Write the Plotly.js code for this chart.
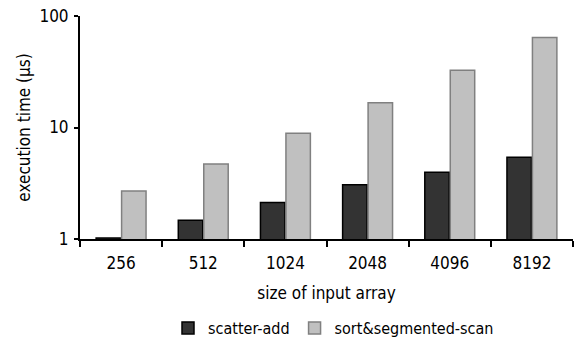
<!DOCTYPE html>
<html>
<head>
<meta charset="utf-8">
<script src="https://cdn.plot.ly/plotly-3.0.1.min.js"></script>
<style>
  html, body { margin: 0; padding: 0; background: #fff; }
  #chart { width: 576px; height: 341px; }
</style>
</head>
<body>
<div id="chart"></div>
<script>
// Input array sizes
const sizes = ["256", "512", "1024", "2048", "4096", "8192"];
// Execution times in microseconds
const scatterAdd = [1.02, 1.47, 2.12, 3.07, 3.96, 5.4];
const sortSegScan = [2.7, 4.7, 8.9, 16.7, 32.6, 64.3];
// Y-axis tick labels
const yTicks = [1, 10, 100];

const family = "DejaVu Sans Condensed, DejaVu Sans, sans-serif";
const font = { family: family, size: 17, color: "#000" };

const traces = [
  {
    type: "bar", name: "scatter-add", x: sizes, y: scatterAdd,
    marker: { color: "#333333", line: { color: "#000000", width: 1.5 } }
  },
  {
    type: "bar", name: "sort&segmented-scan", x: sizes, y: sortSegScan,
    marker: { color: "#c0c0c0", line: { color: "#808080", width: 1.5 } }
  }
];

const layout = {
  width: 576, height: 341,
  margin: { l: 80, r: 3, t: 16, b: 102 },
  paper_bgcolor: "#fff", plot_bgcolor: "#fff",
  font: font,
  barmode: "group", bargap: 0.38, bargroupgap: 0.04,
  showlegend: true,
  legend: {
    orientation: "h", xref: "container", yref: "container",
    x: 168 / 576, xanchor: "left", y: 13 / 341, yanchor: "middle",
    font: { family: family, size: 16, color: "#000" },
    itemwidth: 30, traceorder: "normal"
  },
  xaxis: {
    type: "category", showline: true, linecolor: "#000", linewidth: 2,
    ticks: "outside", tickson: "boundaries", ticklen: 6, tickwidth: 2, tickcolor: "#000",
    ticklabelstandoff: 8,
    showgrid: false, zeroline: false,
    title: { text: "size of input array", font: font, standoff: 15 }
  },
  yaxis: {
    type: "log", range: [0, 2], showline: true, linecolor: "#000", linewidth: 2,
    ticks: "outside", ticklen: 4, tickwidth: 2, tickcolor: "#000",
    ticklabelstandoff: 2, automargin: true,
    tickvals: yTicks, ticktext: yTicks.map(String),
    showgrid: false, zeroline: false,
    title: { text: "execution time (μs)", font: font, standoff: 4 }
  }
};

Plotly.newPlot("chart", traces, layout, { displayModeBar: false, staticPlot: true });
</script>
</body>
</html>
